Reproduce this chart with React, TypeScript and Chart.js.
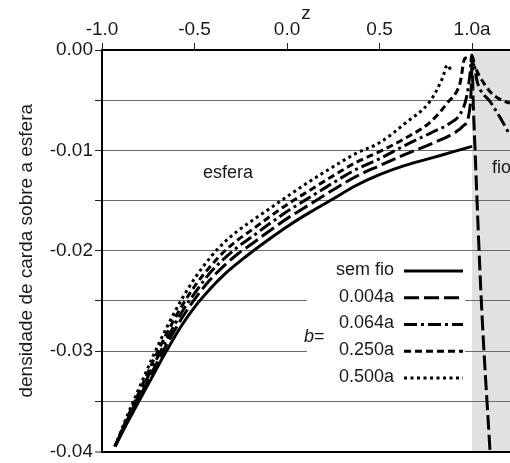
import { useEffect, useRef } from 'react';
import { Chart, registerables } from 'chart.js';

Chart.register(...registerables);

const FONT = '"Liberation Sans", Arial, Helvetica, sans-serif';
const INK = '#1a1a1a';

// Axis ticks and extent
const zTicks = [-1.0, -0.5, 0.0, 0.5, 1.0];
const densityTicks = [-0.04, -0.035, -0.03, -0.025, -0.02, -0.015, -0.01, -0.005, 0];
const zMin = -1.0;
const zMax = 1.205;
const densityMin = -0.04;
const densityMax = 0;
const wireStartZ = 1.0;

// Charge density on the sphere (and along the wire beyond z = a)
const zSemFio = [-0.93, -0.865, -0.795, -0.724, -0.649, -0.568, -0.486, -0.416, -0.341, -0.265, -0.189, -0.086, 0.016, 0.13, 0.243, 0.373, 0.503, 0.638, 0.773, 0.886, 1.0];
const rhoSemFio = [-0.0395, -0.0372, -0.0348, -0.0324, -0.0299, -0.0274, -0.0253, -0.0238, -0.0224, -0.0212, -0.0201, -0.0187, -0.0174, -0.0161, -0.0149, -0.0135, -0.0124, -0.0115, -0.0108, -0.0102, -0.0096];

const zB004 = [-0.93, -0.865, -0.795, -0.724, -0.649, -0.568, -0.486, -0.416, -0.341, -0.265, -0.189, -0.086, 0.016, 0.13, 0.243, 0.373, 0.503, 0.638, 0.773, 0.9, 0.95, 0.985, 0.996, 1.0, 1.005, 1.016, 1.05, 1.097];
const rhoB004 = [-0.0395, -0.0370, -0.0345, -0.0319, -0.0293, -0.0267, -0.0245, -0.0229, -0.0215, -0.0203, -0.0193, -0.0179, -0.0166, -0.0153, -0.0140, -0.0126, -0.0115, -0.0104, -0.0094, -0.0083, -0.0076, -0.0062, -0.0035, -0.0007, -0.0045, -0.0099, -0.0250, -0.0400];

const zB064 = [-0.93, -0.865, -0.795, -0.724, -0.649, -0.568, -0.486, -0.416, -0.341, -0.265, -0.189, -0.086, 0.016, 0.13, 0.243, 0.373, 0.503, 0.638, 0.773, 0.88, 0.935, 0.97, 0.99, 0.998, 1.03, 1.1, 1.16, 1.205];
const rhoB064 = [-0.0395, -0.0369, -0.0342, -0.0315, -0.0288, -0.0261, -0.0239, -0.0222, -0.0208, -0.0196, -0.0186, -0.0172, -0.0159, -0.0146, -0.0133, -0.0119, -0.0108, -0.0095, -0.0083, -0.0073, -0.0064, -0.0047, -0.0022, -0.0005, -0.0033, -0.0052, -0.0070, -0.0085];

const zB250 = [-0.93, -0.865, -0.795, -0.724, -0.649, -0.568, -0.486, -0.416, -0.341, -0.265, -0.189, -0.086, 0.016, 0.13, 0.243, 0.373, 0.503, 0.638, 0.773, 0.865, 0.935, 0.962, 1.0, 1.04, 1.1, 1.16, 1.205];
const rhoB250 = [-0.0395, -0.0367, -0.0339, -0.0310, -0.0282, -0.0255, -0.0232, -0.0216, -0.0201, -0.0189, -0.0179, -0.0165, -0.0152, -0.0139, -0.0126, -0.0112, -0.0101, -0.0088, -0.0072, -0.0053, -0.0033, -0.0008, -0.0012, -0.0026, -0.0042, -0.0050, -0.0053];

const zB500 = [-0.93, -0.865, -0.795, -0.724, -0.649, -0.568, -0.486, -0.416, -0.341, -0.265, -0.189, -0.086, 0.016, 0.13, 0.243, 0.373, 0.503, 0.638, 0.773, 0.84, 0.866, 0.89];
const rhoB500 = [-0.0395, -0.0365, -0.0335, -0.0305, -0.0276, -0.0248, -0.0224, -0.0207, -0.0192, -0.0180, -0.0170, -0.0157, -0.0144, -0.0130, -0.0117, -0.0103, -0.0092, -0.0073, -0.0051, -0.0028, -0.0015, -0.0022];

const seriesLabels = ['sem fio', '0.004a', '0.064a', '0.250a', '0.500a'];
const seriesZ = [zSemFio, zB004, zB064, zB250, zB500];
const seriesRho = [rhoSemFio, rhoB004, rhoB064, rhoB250, rhoB500];

// Stroke patterns per series
const seriesDash: number[][] = [[], [15, 5], [13, 4, 3, 4], [7, 4], [3, 3.5]];

const yTitle = 'densidade de carda sobre a esfera';
const xTitle = 'z';
const sphereLabel = 'esfera';
const wireLabel = 'fio';
const legendPrefix = 'b';

const decorations = {
  id: 'decorations',
  beforeDraw(chart: any) {
    const { ctx, chartArea: a } = chart;
    const x = chart.scales.x;
    ctx.save();
    ctx.fillStyle = '#fff';
    ctx.fillRect(0, 0, chart.width, chart.height);
    const xw = x.getPixelForValue(wireStartZ);
    ctx.fillStyle = '#e1e1e1';
    ctx.fillRect(xw, a.top, a.right - xw, a.bottom - a.top);
    ctx.restore();
  },
  beforeDatasetsDraw(chart: any) {
    const { ctx } = chart;
    ctx.save();
    // legend panel breaks the grid lines behind it
    ctx.fillStyle = '#fff';
    ctx.fillRect(307, 256, 158, 136);

    ctx.fillStyle = INK;
    ctx.textBaseline = 'middle';
    ctx.font = `18px ${FONT}`;
    ctx.textAlign = 'right';
    seriesLabels.forEach((label, i) => {
      const ry = 270 + i * 26.75;
      ctx.fillText(label, 394, ry);
      ctx.beginPath();
      ctx.setLineDash(seriesDash[i]);
      ctx.lineWidth = 3;
      ctx.lineCap = 'butt';
      ctx.strokeStyle = '#000';
      ctx.moveTo(404, ry + 1);
      ctx.lineTo(463, ry + 1);
      ctx.stroke();
    });
    ctx.setLineDash([]);

    ctx.textAlign = 'left';
    ctx.font = `italic 18px ${FONT}`;
    ctx.fillText(legendPrefix, 304, 337);
    const bw = ctx.measureText(legendPrefix).width;
    ctx.font = `18px ${FONT}`;
    ctx.fillText('=', 304 + bw, 337);

    ctx.textAlign = 'center';
    ctx.fillText(sphereLabel, 228, 173);
    ctx.textAlign = 'left';
    ctx.fillText(wireLabel, 492, 168);
    ctx.restore();
  },
};

export default function App() {
  const ref = useRef<HTMLCanvasElement>(null);

  useEffect(() => {
    document.body.style.margin = '0';
    const canvas = ref.current!;
    const chart = new Chart(canvas, {
      type: 'line',
      data: {
        datasets: seriesLabels.map((label, i) => ({
          label,
          data: seriesZ[i].map((z, k) => ({ x: z, y: seriesRho[i][k] })),
          borderColor: '#000',
          borderWidth: 3,
          borderDash: seriesDash[i],
          borderCapStyle: 'butt' as const,
          pointRadius: 0,
          fill: false,
          cubicInterpolationMode: 'monotone' as const,
        })),
      },
      options: {
        animation: false,
        responsive: false,
        devicePixelRatio: 1,
        layout: { padding: { left: 0, right: 0, top: 0, bottom: 10 } },
        plugins: { legend: { display: false }, tooltip: { enabled: false } },
        scales: {
          x: {
            type: 'linear',
            position: 'top',
            min: zMin,
            max: zMax,
            afterBuildTicks: (s: any) => {
              s.ticks = zTicks.map((v) => ({ value: v }));
            },
            afterFit: (s: any) => {
              s.height = 50;
            },
            ticks: {
              callback: (v: any) => (Number(v) === 1 ? '1.0a' : Number(v).toFixed(1)),
              font: { family: FONT, size: 19, lineHeight: 1.2 },
              color: INK,
              padding: 2,
              maxRotation: 0,
              autoSkip: false,
            },
            grid: {
              drawOnChartArea: false,
              drawTicks: true,
              tickLength: 7,
              tickColor: '#222',
              tickWidth: 1,
            },
            border: { display: true, color: '#000', width: 2 },
            title: {
              display: true,
              text: xTitle,
              font: { family: FONT, size: 19, lineHeight: 1.2 },
              color: INK,
              padding: { top: 2, bottom: 0 },
            },
          },
          y: {
            type: 'linear',
            min: densityMin,
            max: densityMax,
            afterBuildTicks: (s: any) => {
              s.ticks = densityTicks.map((v) => ({ value: v }));
            },
            afterFit: (s: any) => {
              s.width = 102;
            },
            ticks: {
              callback: (v: any) => {
                const n = Number(v);
                return Math.abs(n * 100 - Math.round(n * 100)) < 1e-6 ? n.toFixed(2) : '';
              },
              font: { family: FONT, size: 19, lineHeight: 1 },
              color: INK,
              padding: 2,
              autoSkip: false,
            },
            grid: {
              color: (c: any) => (c.tick && (c.tick.value === densityMin || c.tick.value === densityMax) ? '#000' : '#6a6a6a'),
              lineWidth: (c: any) => (c.tick && c.tick.value === densityMin ? 2 : 1),
              tickLength: 7,
              tickColor: '#222',
              tickWidth: 1,
            },
            border: { display: true, color: '#000', width: 2 },
            title: {
              display: true,
              text: yTitle,
              font: { family: FONT, size: 19, lineHeight: 1.2 },
              color: INK,
              padding: { top: 15, bottom: 0 },
            },
          },
        },
      },
      plugins: [decorations],
    });
    return () => chart.destroy();
  }, []);

  return (
    <div style={{ width: 510, height: 463 }}>
      <canvas ref={ref} width={510} height={463} style={{ display: 'block' }} />
    </div>
  );
}
